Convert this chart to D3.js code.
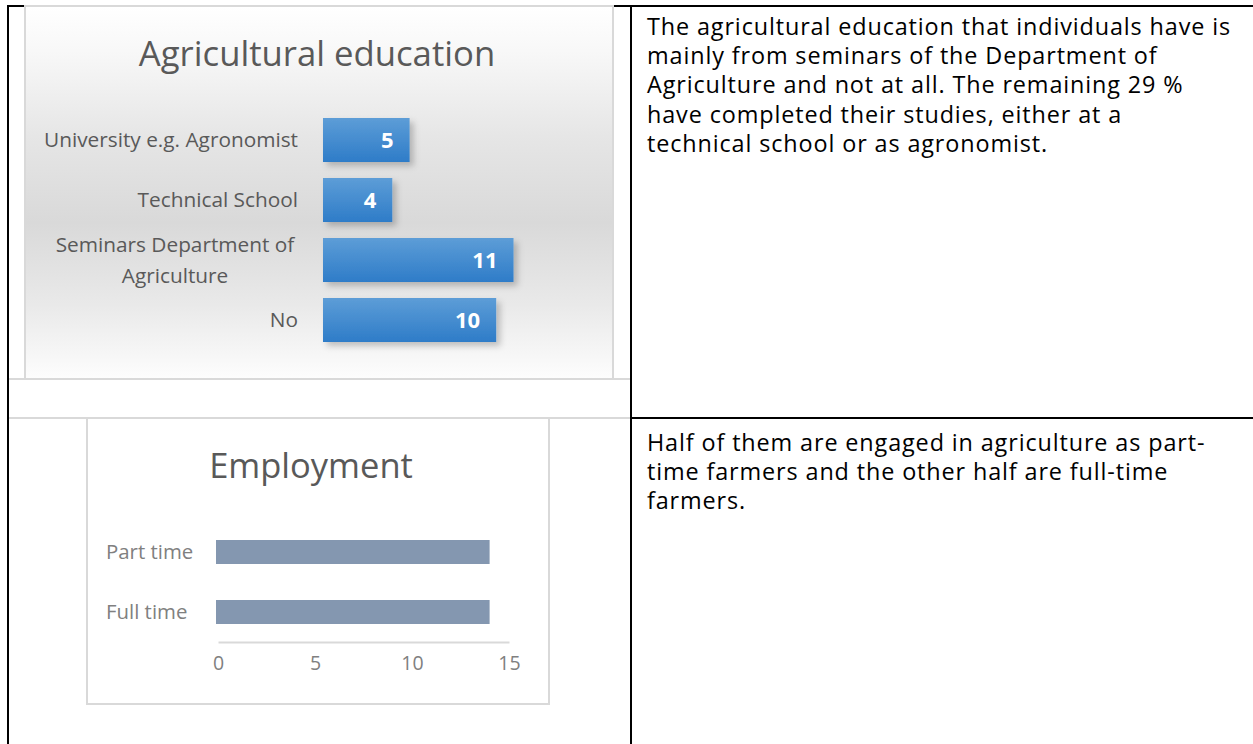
<!DOCTYPE html>
<html>
<head>
<meta charset="utf-8">
<script src="https://cdn.jsdelivr.net/npm/d3@7"></script>
<style>
  html, body { margin: 0; padding: 0; background: #fff; }
  svg { display: block; }
  text { font-family: "Open Sans", "Noto Sans", sans-serif; }
</style>
</head>
<body>
<svg id="page" width="1253" height="744"></svg>
<script>
// ---------- data ----------
const eduTitle = "Agricultural education";
const eduCategories = ["University e.g. Agronomist", "Technical School", "Seminars Department of Agriculture", "No"];
const eduValues = [5, 4, 11, 10];

const empTitle = "Employment";
const empCategories = ["Part time", "Full time"];
const empValues = [14, 14];
const empTicks = [0, 5, 10, 15];

const eduText = [
  "The agricultural education that individuals have is",
  "mainly from seminars of the Department of",
  "Agriculture and not at all. The remaining 29 %",
  "have completed their studies, either at a",
  "technical school or as agronomist."
];
const empText = [
  "Half of them are engaged in agriculture as part-",
  "time farmers and the other half are full-time",
  "farmers."
];

// ---------- setup ----------
const svg = d3.select("#page");
const defs = svg.append("defs");

const bg = defs.append("linearGradient").attr("id", "chartBg")
  .attr("x1", 0).attr("y1", 0).attr("x2", 0).attr("y2", 1);
[[0, "#ffffff"], [0.12, "#f8f8f8"], [0.35, "#e6e6e6"], [0.58, "#d9d9d9"], [0.8, "#e9e9e9"], [1, "#fdfdfd"]]
  .forEach(([o, c]) => bg.append("stop").attr("offset", o).attr("stop-color", c));

const barGrad = defs.append("linearGradient").attr("id", "barGrad")
  .attr("x1", 0).attr("y1", 0).attr("x2", 0).attr("y2", 1);
[[0, "#5d9dd7"], [1, "#2e7cc8"]]
  .forEach(([o, c]) => barGrad.append("stop").attr("offset", o).attr("stop-color", c));

const shadow = defs.append("filter").attr("id", "shadow")
  .attr("x", "-10%").attr("y", "-20%").attr("width", "130%").attr("height", "160%");
shadow.append("feDropShadow").attr("dx", 4).attr("dy", 4).attr("stdDeviation", 3)
  .attr("flood-color", "#000").attr("flood-opacity", 0.22);

// ---------- table frame ----------
const frame = svg.append("g");
frame.append("line").attr("x1", 8).attr("x2", 8).attr("y1", 5).attr("y2", 744).attr("stroke", "#000").attr("stroke-width", 2);
frame.append("line").attr("x1", 7).attr("x2", 1253).attr("y1", 6).attr("y2", 6).attr("stroke", "#000").attr("stroke-width", 2);
frame.append("line").attr("x1", 631).attr("x2", 631).attr("y1", 5).attr("y2", 744).attr("stroke", "#000").attr("stroke-width", 2);
frame.append("line").attr("x1", 9).attr("x2", 630).attr("y1", 379).attr("y2", 379).attr("stroke", "#d9d9d9").attr("stroke-width", 2);
frame.append("line").attr("x1", 9).attr("x2", 630).attr("y1", 418).attr("y2", 418).attr("stroke", "#d9d9d9").attr("stroke-width", 2);
frame.append("line").attr("x1", 631).attr("x2", 1253).attr("y1", 418).attr("y2", 418).attr("stroke", "#000").attr("stroke-width", 2);

// ---------- chart 1: Agricultural education ----------
const c1 = svg.append("g");
c1.append("rect").attr("x", 25).attr("y", 6).attr("width", 588).attr("height", 373)
  .attr("fill", "url(#chartBg)").attr("stroke", "#d9d9d9").attr("stroke-width", 2);

c1.append("text").attr("x", 317).attr("y", 66).attr("text-anchor", "middle")
  .attr("font-size", 34.7).attr("fill", "#595959").text(eduTitle);

const x1 = d3.scaleLinear().domain([0, 12]).range([323, 323 + 12 * 17.32]);
const y1 = d3.scaleBand().domain(eduCategories).range([110, 350])
  .paddingInner(16 / 60).paddingOuter(8 / 60);

c1.append("g").selectAll("rect").data(eduValues).join("rect")
  .attr("x", x1(0))
  .attr("y", (d, i) => y1(eduCategories[i]))
  .attr("width", d => x1(d) - x1(0))
  .attr("height", y1.bandwidth())
  .attr("fill", "url(#barGrad)")
  .attr("filter", "url(#shadow)");

c1.append("g").selectAll("text").data(eduValues).join("text")
  .attr("x", d => x1(d) - 16)
  .attr("y", (d, i) => y1(eduCategories[i]) + y1.bandwidth() / 2 + 8)
  .attr("text-anchor", "end").attr("font-size", 22).attr("font-weight", 700)
  .attr("fill", "#fff").text(d => d);

// category labels with wrapping
const labelRight = 298, labelMax = 262, labelCenter = 175, lineH = 31;
const lg = c1.append("g").attr("font-size", 20.8).attr("fill", "#595959");
eduCategories.forEach(cat => {
  const cy = y1(cat) + y1.bandwidth() / 2;
  const t = lg.append("text").text(cat);
  if (t.node().getComputedTextLength() <= labelMax) {
    t.attr("x", labelRight).attr("y", cy + 7).attr("text-anchor", "end");
  } else {
    t.text(null);
    const words = cat.split(" ");
    const lines = [];
    let cur = [];
    words.forEach(w => {
      cur.push(w);
      t.text(cur.join(" "));
      if (t.node().getComputedTextLength() > labelMax && cur.length > 1) {
        cur.pop(); lines.push(cur.join(" ")); cur = [w];
      }
    });
    lines.push(cur.join(" "));
    t.text(null).attr("text-anchor", "middle");
    const y0 = cy + 7 - (lines.length - 1) * lineH / 2;
    lines.forEach((ln, k) => t.append("tspan").attr("x", labelCenter).attr("y", y0 + k * lineH).text(ln));
  }
});

// ---------- chart 2: Employment ----------
const c2 = svg.append("g");
c2.append("rect").attr("x", 87).attr("y", 418).attr("width", 462).attr("height", 286)
  .attr("fill", "#fff").attr("stroke", "#d9d9d9").attr("stroke-width", 2);

c2.append("text").attr("x", 311).attr("y", 478).attr("text-anchor", "middle")
  .attr("font-size", 34.5).attr("fill", "#595959").text(empTitle);

const x2 = d3.scaleLinear().domain([0, 15]).range([218, 509]);
const y2 = d3.scaleBand().domain(empCategories).range([522, 642]).paddingInner(0.6).paddingOuter(0.3);

c2.append("g").selectAll("rect").data(empValues).join("rect")
  .attr("x", x2(0) - 2)
  .attr("y", (d, i) => y2(empCategories[i]))
  .attr("width", d => x2(d) - x2(0) + 2)
  .attr("height", y2.bandwidth())
  .attr("fill", "#8497b0");

const ax = c2.append("g").attr("transform", "translate(0,642)")
  .call(d3.axisBottom(x2).tickValues(empTicks).tickSize(0).tickPadding(14).tickFormat(d3.format("d")));
ax.select(".domain").attr("stroke", "#d9d9d9").attr("stroke-width", 2);
ax.selectAll("text").attr("font-size", 19.5).attr("fill", "#808080")
  .attr("font-family", "Open Sans, sans-serif").attr("dy", "0.71em");

c2.append("g").selectAll("text").data(empCategories).join("text")
  .attr("x", 106)
  .attr("y", d => y2(d) + y2.bandwidth() / 2 + 7)
  .attr("font-size", 20.4).attr("fill", "#808080").text(d => d);

// ---------- right column text ----------
const paraFont = 23.4, paraTargetWidth = 584, paraStep = 29.2;
const probe = svg.append("text").attr("font-family", "Lato, 'Open Sans', sans-serif")
  .attr("font-size", paraFont).text(eduText[0]);
const natural = probe.node().getComputedTextLength();
probe.remove();
const spacing = Math.max(0, (paraTargetWidth - natural) / eduText[0].length);

function paragraph(lines, x, y0, step) {
  lines.forEach((ln, i) => svg.append("text")
    .attr("font-family", "Lato, 'Open Sans', sans-serif")
    .attr("font-size", paraFont).attr("letter-spacing", spacing)
    .attr("fill", "#000").attr("x", x).attr("y", y0 + i * step).text(ln));
}
paragraph(eduText, 647, 35, paraStep);
paragraph(empText, 647, 451, paraStep);
</script>
</body>
</html>
